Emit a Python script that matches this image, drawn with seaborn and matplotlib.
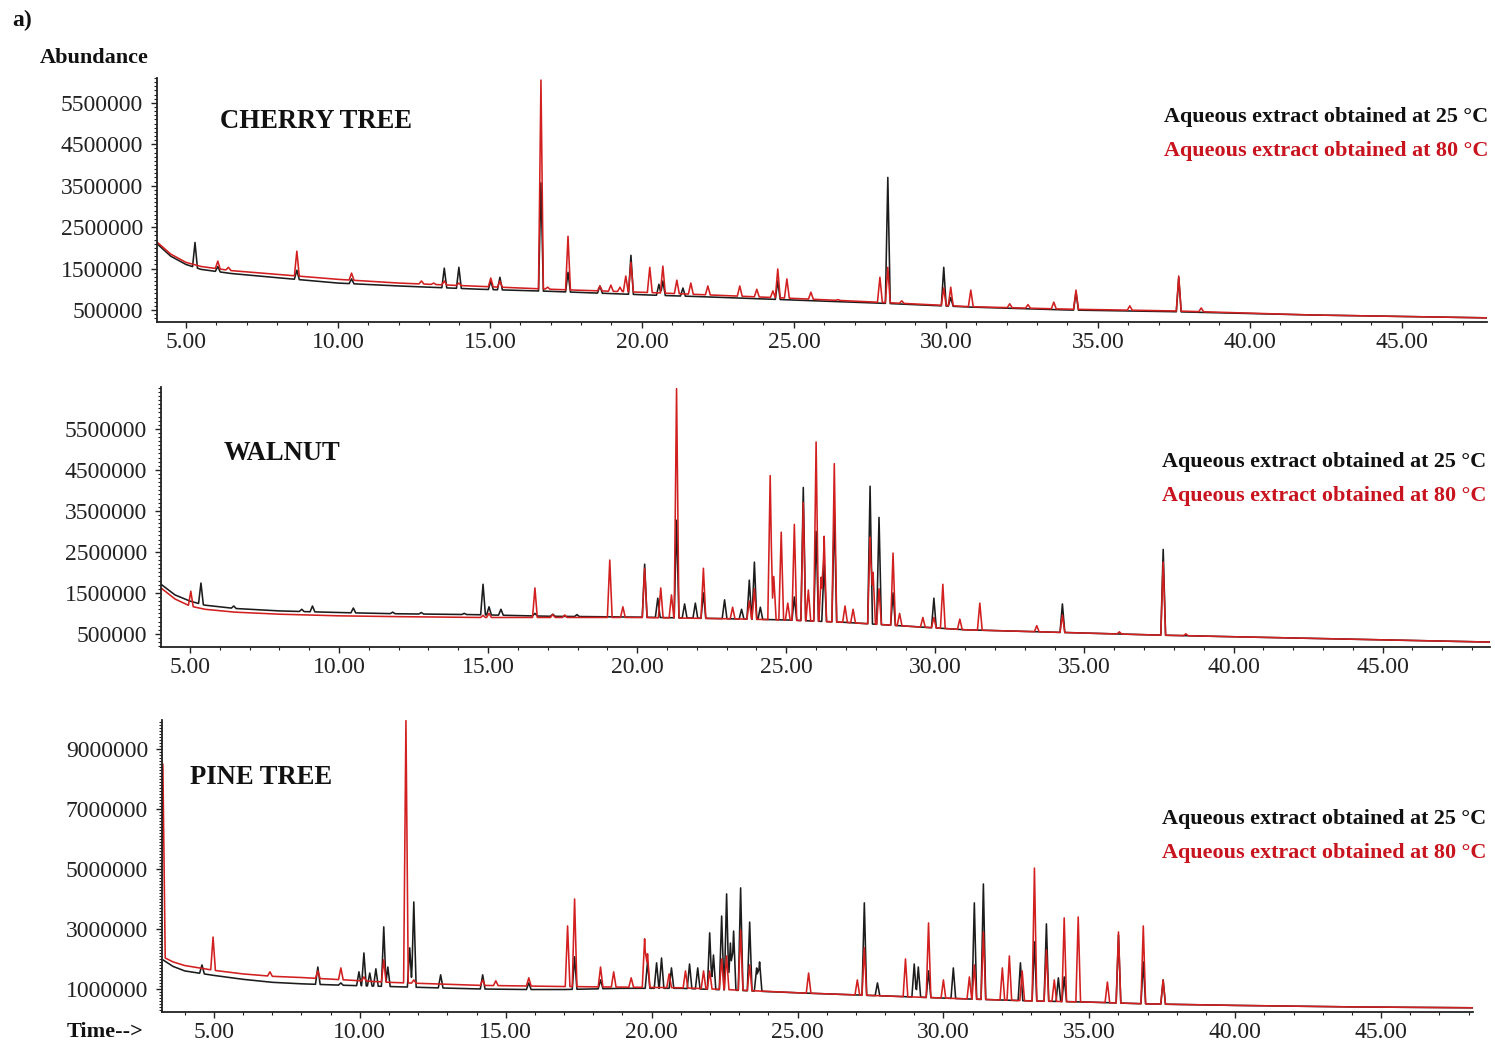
import numpy as np
import pandas as pd
import matplotlib
matplotlib.use("Agg")
import matplotlib.pyplot as plt
import seaborn as sns
from matplotlib.ticker import MultipleLocator, FixedLocator, FuncFormatter

# ---------------- DATA (time in min, abundance in millions) ----------------
# CHERRY TREE
cherry_base_t = [4.05, 4.5, 5.0, 5.5, 6.5, 8, 10, 12, 14.7, 17, 20.3, 22, 25, 28, 30.8, 34, 37.4, 42, 47.8]
cherry_base_25 = [2.10, 1.80, 1.60, 1.48, 1.38, 1.28, 1.15, 1.08, 1.00, 0.95, 0.86, 0.82, 0.74, 0.66, 0.57, 0.50, 0.46, 0.38, 0.31]
cherry_base_80 = [2.14, 1.85, 1.65, 1.55, 1.45, 1.36, 1.24, 1.15, 1.07, 1.00, 0.92, 0.87, 0.78, 0.68, 0.58, 0.52, 0.48, 0.38, 0.31]
cherry_pk_t_25 = [5.3, 6.05, 8.65, 10.45, 13.5, 13.98, 15.03, 15.33, 16.68, 17.57, 18.62, 19.64, 20.56, 20.69,
                  21.35, 24.47, 28.09, 29.93, 30.16, 34.28, 37.66]
cherry_pk_h_25 = [2.13, 1.55, 1.46, 1.25, 1.51, 1.53, 1.20, 1.29, 3.57, 1.41, 1.08, 1.82, 1.12, 1.20,
                  1.03, 1.20, 3.70, 1.53, 0.80, 0.93, 1.28]
cherry_pk_t_80 = [6.05, 6.4, 8.65, 10.45, 12.75, 13.15, 13.5, 13.98, 15.03, 15.33, 16.68, 16.9, 17.57, 18.62,
                  18.98, 19.28, 19.47, 19.64, 20.26, 20.69, 21.15, 21.61, 22.17, 23.22, 23.78, 24.31, 24.47,
                  24.77, 25.56, 26.45, 27.83, 28.09, 28.55, 29.93, 30.16, 30.82, 32.1, 32.7, 33.55, 34.28,
                  36.05, 37.66, 38.4]
cherry_pk_h_80 = [1.68, 1.53, 1.92, 1.39, 1.20, 1.15, 1.20, 1.15, 1.27, 1.20, 6.05, 1.05, 2.28, 1.08,
                  1.10, 1.05, 1.32, 1.65, 1.53, 1.56, 1.22, 1.15, 1.08, 1.08, 1.00, 0.96, 1.49,
                  1.25, 0.93, 0.75, 1.29, 1.53, 0.72, 1.03, 1.05, 0.98, 0.65, 0.63, 0.69, 0.98,
                  0.60, 1.32, 0.55]

# WALNUT
walnut_base_t = [4.03, 4.5, 5.0, 5.5, 6.5, 8, 10, 12, 14.5, 17, 20, 23, 25, 27, 29, 31, 33, 35, 37.5, 40, 44, 48.6]
walnut_base_25 = [1.71, 1.45, 1.30, 1.20, 1.12, 1.06, 1.02, 0.99, 0.97, 0.93, 0.91, 0.87, 0.84, 0.78, 0.69, 0.60, 0.56, 0.52, 0.47, 0.43, 0.37, 0.30]
walnut_base_80 = [1.62, 1.35, 1.18, 1.10, 1.03, 0.98, 0.94, 0.92, 0.90, 0.90, 0.90, 0.87, 0.84, 0.78, 0.69, 0.60, 0.56, 0.52, 0.47, 0.43, 0.37, 0.30]
walnut_pk_t_25 = [5.37, 6.47, 8.75, 9.11, 10.48, 11.8, 12.76, 14.2, 14.83, 15.03, 15.43, 16.57, 17.17, 17.98,
                  20.25, 20.69, 21.32, 21.59, 21.95, 22.22, 22.93, 23.5, 23.76, 23.93, 24.13, 25.27, 25.57,
                  26.0, 26.27, 26.61, 27.81, 28.11, 28.58, 29.95, 34.26, 37.64]
walnut_pk_h_25 = [1.74, 1.18, 1.10, 1.18, 1.13, 1.03, 1.02, 1.00, 1.71, 1.16, 1.10, 1.00, 0.98, 0.97,
                  2.20, 1.37, 3.27, 1.23, 1.25, 1.50, 1.33, 1.10, 1.81, 2.25, 1.15, 1.40, 4.07,
                  3.00, 2.20, 3.50, 4.10, 3.34, 1.50, 1.37, 1.23, 2.56]
walnut_pk_t_80 = [5.03, 14.83, 15.03, 16.57, 17.17, 17.57, 19.08, 19.52, 20.25, 20.79, 21.15, 21.32, 22.22,
                  23.2, 23.76, 23.93, 24.46, 24.58, 24.83, 25.05, 25.27, 25.57, 25.74, 26.0, 26.17, 26.27,
                  26.61, 26.97, 27.24, 27.81, 27.91, 28.11, 28.58, 28.8, 29.58, 29.95, 30.25, 30.82, 31.49,
                  33.4, 34.26, 36.17, 37.64, 38.4]
walnut_pk_h_80 = [1.54, 0.95, 1.00, 1.62, 0.97, 0.96, 2.30, 1.16, 2.10, 1.62, 1.45, 6.48, 2.10,
                  1.15, 1.30, 1.60, 4.36, 1.90, 2.98, 1.25, 3.17, 3.70, 1.57, 5.18, 1.88, 2.88,
                  4.65, 1.18, 1.10, 2.86, 2.00, 1.60, 2.47, 1.00, 0.90, 0.90, 1.71, 0.86, 1.25,
                  0.70, 0.96, 0.55, 2.25, 0.50]

# PINE TREE
pine_base_t = [3.25, 3.6, 4.0, 5.0, 6.0, 7.0, 8.0, 9.5, 11, 12.5, 14, 15.5, 17, 19, 21, 23, 25, 27, 29, 31, 33, 35, 37, 40, 44, 48.2]
pine_base_25 = [1.97, 1.75, 1.60, 1.45, 1.32, 1.22, 1.17, 1.12, 1.08, 1.04, 1.00, 0.98, 0.98, 1.02, 1.02, 0.95, 0.87, 0.80, 0.73, 0.66, 0.60, 0.56, 0.50, 0.45, 0.40, 0.37]
pine_base_80 = [2.07, 1.90, 1.78, 1.62, 1.50, 1.42, 1.38, 1.30, 1.22, 1.17, 1.12, 1.10, 1.08, 1.06, 1.04, 0.96, 0.87, 0.80, 0.73, 0.66, 0.60, 0.56, 0.50, 0.45, 0.40, 0.37]
pine_pk_t_25 = [4.59, 8.56, 9.35, 9.97, 10.14, 10.34, 10.55, 10.82, 10.96, 11.71, 11.85, 12.77, 14.21, 15.79,
                17.36, 18.25, 19.86, 20.17, 20.34, 20.68, 21.3, 21.58, 21.99, 22.12, 22.4, 22.57, 22.7,
                22.81, 23.05, 23.36, 23.6, 23.7, 27.29, 27.74, 29.0, 29.14, 29.49, 30.34, 31.06, 31.37,
                32.64, 33.12, 33.53, 33.94, 34.14, 36.0, 36.85, 37.53]
pine_pk_h_25 = [1.80, 1.73, 1.20, 1.57, 2.20, 1.53, 1.67, 3.07, 1.73, 2.37, 3.90, 1.47, 1.47, 1.20,
                2.07, 1.30, 1.90, 1.87, 2.03, 1.70, 1.83, 1.70, 2.87, 2.13, 3.43, 4.17, 2.53,
                2.93, 4.37, 3.23, 1.70, 1.90, 3.87, 1.20, 1.83, 1.73, 1.60, 1.70, 3.87, 4.50,
                1.87, 2.57, 3.17, 1.37, 1.40, 2.80, 1.90, 1.30]
pine_pk_t_80 = [3.25, 4.97, 6.92, 8.56, 9.35, 10.14, 10.82, 11.58, 11.85, 14.21, 14.66, 15.79, 17.12, 17.36,
                18.25, 18.7, 19.3, 19.76, 19.86, 20.6, 21.16, 21.78, 21.99, 22.4, 22.57, 23.05, 23.36,
                25.38, 27.05, 27.29, 28.7, 29.49, 30.0, 30.89, 31.06, 31.37, 32.02, 32.26, 32.7, 33.12,
                33.53, 33.8, 34.14, 34.62, 35.62, 36.0, 36.85, 37.53]
pine_pk_h_80 = [8.50, 2.73, 1.57, 1.60, 1.70, 1.40, 1.97, 9.95, 1.30, 1.30, 1.27, 1.37, 3.10, 4.00,
                1.73, 1.57, 1.37, 2.67, 2.17, 1.50, 1.60, 1.60, 1.60, 2.00, 2.10, 2.97, 1.80,
                1.53, 1.30, 2.37, 2.00, 3.20, 1.30, 1.40, 1.80, 2.90, 1.70, 2.10, 1.60, 5.03,
                2.30, 1.30, 3.37, 3.40, 1.23, 2.90, 3.10, 1.30]

panel_names = ["CHERRY TREE", "WALNUT", "PINE TREE"]
series_labels = ["Aqueous extract obtained at 25 °C", "Aqueous extract obtained at 80 °C"]
cherry_yticks = [500000, 1500000, 2500000, 3500000, 4500000, 5500000]
walnut_yticks = [500000, 1500000, 2500000, 3500000, 4500000, 5500000]
pine_yticks = [1000000, 3000000, 5000000, 7000000, 9000000]

# ---------------- STYLE ----------------
sns.set_style("ticks")
plt.rcParams["font.family"] = ["Liberation Serif", "DejaVu Serif"]

W, H = 1495, 1045
BLACK = "#1c1c1c"
RED = "#d21f1f"
RED_TXT = "#c8141e"
TXT = "#222222"

fig = plt.figure(figsize=(W / 100, H / 100), dpi=100)


def prect(l, t, r, b):
    return [l / W, 1 - b / H, (r - l) / W, (b - t) / H]


def ftext(x, y, s, **kw):
    fig.text(x / W, 1 - y / H, s, **kw)


def build_trace(bt, bv, pt, ph, w=0.08):
    bt = np.asarray(bt, float)
    bv = np.asarray(bv, float) * 1e6
    pt = np.asarray(pt, float)
    ph = np.asarray(ph, float) * 1e6
    ts = np.unique(np.concatenate([bt, pt - w, pt, pt + w]))
    ys = np.interp(ts, bt, bv)
    base = ys.copy()
    for t0, h in zip(pt, ph):
        frac = 1 - np.abs(ts - t0) / w
        inside = frac > 0
        tri = base + (h - np.interp(t0, bt, bv)) * np.clip(frac, 0, None)
        ys = np.where(inside, np.maximum(ys, tri), ys)
    return ts, ys


panels = [
    dict(name=panel_names[0], rect=prect(157, 78, 1487, 322), xlim=(4.05, 47.8), ylim=(0.21e6, 6.1e6),
         yticks=cherry_yticks,
         s25=(cherry_base_t, cherry_base_25, cherry_pk_t_25, cherry_pk_h_25),
         s80=(cherry_base_t, cherry_base_80, cherry_pk_t_80, cherry_pk_h_80),
         title_xy=(220, 121), leg_xy=(1488, 117)),
    dict(name=panel_names[1], rect=prect(161, 387, 1490, 647), xlim=(4.03, 48.6), ylim=(0.18e6, 6.52e6),
         yticks=walnut_yticks,
         s25=(walnut_base_t, walnut_base_25, walnut_pk_t_25, walnut_pk_h_25),
         s80=(walnut_base_t, walnut_base_80, walnut_pk_t_80, walnut_pk_h_80),
         title_xy=(224, 453), leg_xy=(1486, 462)),
    dict(name=panel_names[2], rect=prect(162, 720, 1473, 1012), xlim=(3.22, 48.15), ylim=(0.23e6, 9.97e6),
         yticks=pine_yticks,
         s25=(pine_base_t, pine_base_25, pine_pk_t_25, pine_pk_h_25),
         s80=(pine_base_t, pine_base_80, pine_pk_t_80, pine_pk_h_80),
         title_xy=(190, 778), leg_xy=(1486, 819)),
]

for p in panels:
    ax = fig.add_axes(p["rect"])
    t25, a25 = build_trace(*p["s25"])
    t80, a80 = build_trace(*p["s80"])
    df = pd.concat([
        pd.DataFrame({"t": t25, "a": a25, "series": series_labels[0]}),
        pd.DataFrame({"t": t80, "a": a80, "series": series_labels[1]}),
    ], ignore_index=True)
    sns.lineplot(data=df, x="t", y="a", hue="series", hue_order=series_labels,
                 palette={series_labels[0]: BLACK, series_labels[1]: RED},
                 estimator=None, sort=False, legend=False, lw=1.15, ax=ax)
    ax.set_xlim(*p["xlim"])
    ax.set_ylim(*p["ylim"])
    ax.set_xlabel("")
    ax.set_ylabel("")
    sns.despine(ax=ax)
    for sp in ("left", "bottom"):
        ax.spines[sp].set_linewidth(1.3)
        ax.spines[sp].set_color(TXT)
    ax.xaxis.set_major_locator(MultipleLocator(5))
    ax.xaxis.set_minor_locator(MultipleLocator(1))
    ax.xaxis.set_major_formatter(FuncFormatter(lambda v, _: f"{v:.2f}"))
    ax.yaxis.set_major_locator(FixedLocator(p["yticks"]))
    ax.yaxis.set_minor_locator(MultipleLocator(100000))
    ax.yaxis.set_major_formatter(FuncFormatter(lambda v, _: f"{int(round(v))}"))
    ax.tick_params(axis="both", which="major", labelsize=17, labelcolor=TXT, color=TXT,
                   length=4, width=1.0, direction="out")
    ax.tick_params(axis="y", which="major", pad=6)
    ax.tick_params(axis="x", which="major", pad=3)
    ax.tick_params(axis="both", which="minor", length=2.2, width=0.8, color=TXT, direction="out")
    ax.patch.set_alpha(0)

    tx, ty = p["title_xy"]
    ftext(tx, ty, p["name"], fontsize=19.2, fontweight="bold", color="#111111", ha="left", va="center")
    lx, ly = p["leg_xy"]
    ftext(lx, ly, series_labels[0], fontsize=15.9, fontweight="bold", color="#111111", ha="right", va="center")
    ftext(lx, ly + 34, series_labels[1], fontsize=15.9, fontweight="bold", color=RED_TXT, ha="right", va="center")

ftext(12, 20, "a)", fontsize=17, fontweight="bold", color="#111111", ha="left", va="center")
ftext(40, 58, "Abundance", fontsize=16, fontweight="bold", color="#111111", ha="left", va="center")
ftext(67, 1032, "Time-->", fontsize=16, fontweight="bold", color="#111111", ha="left", va="center")

fig.savefig("out.png", dpi=100, facecolor="white")
